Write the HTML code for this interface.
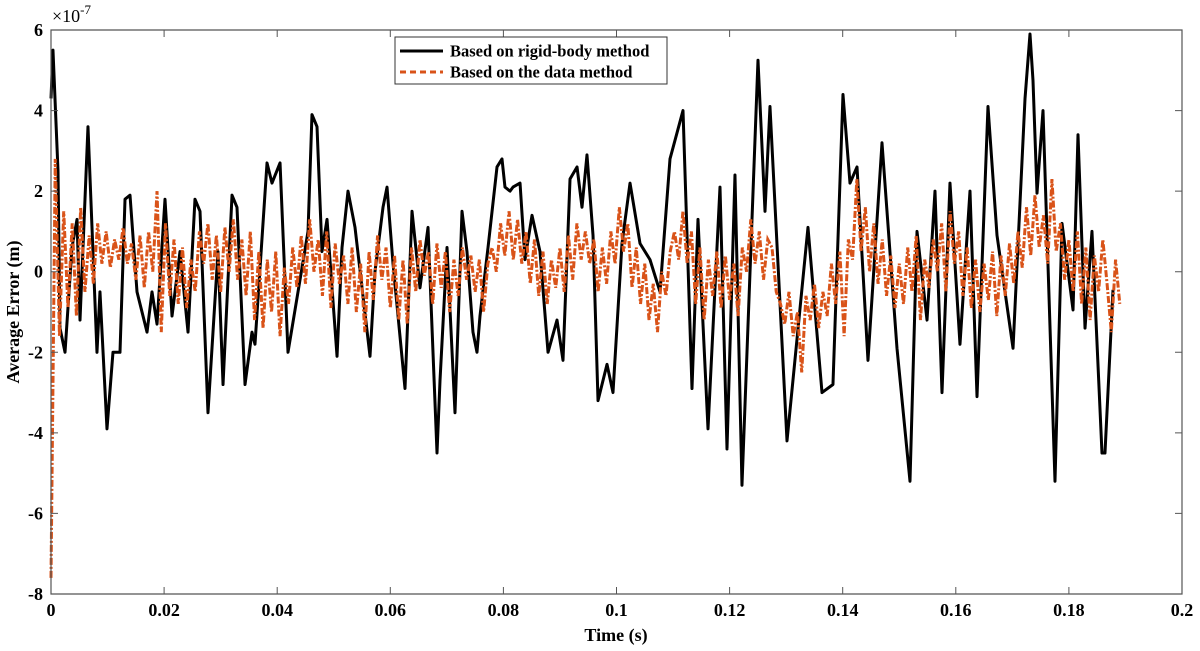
<!DOCTYPE html>
<html><head><meta charset="utf-8"><style>
html,body{margin:0;padding:0;background:#fff;}
svg{display:block;font-family:"Liberation Serif",serif;font-weight:bold;}
</style></head><body>
<svg id="chart" width="1200" height="651" viewBox="0 0 1200 651" xmlns="http://www.w3.org/2000/svg">
<g id="plot"></g>
<g id="axes"></g>
<text x="52" y="22" font-size="18" font-weight="normal">×10<tspan dy="-8" font-size="13">-7</tspan></text>
<text x="616" y="641" font-size="18" text-anchor="middle">Time (s)</text>
<text transform="translate(19,312) rotate(-90)" font-size="18" text-anchor="middle">Average Error (m)</text>
<g>
<rect x="395" y="37" width="272" height="47" fill="#fff" stroke="#333" stroke-width="1"/>
<line x1="400" y1="51" x2="443" y2="51" stroke="#000" stroke-width="3"/>
<text x="450" y="56.5" font-size="16.5">Based on rigid-body method</text>
<line x1="400" y1="72" x2="443" y2="72" stroke="#D95319" stroke-width="3" stroke-dasharray="6,4"/>
<text x="450" y="77.5" font-size="16.5">Based on the data method</text>
</g>
</svg>
<script>
const xTicks = [0, 0.02, 0.04, 0.06, 0.08, 0.1, 0.12, 0.14, 0.16, 0.18, 0.2];
const xTickLabels = ["0","0.02","0.04","0.06","0.08","0.1","0.12","0.14","0.16","0.18","0.2"];
const yTicks = [6, 4, 2, 0, -2, -4, -6, -8];
const yTickLabels = ["6","4","2","0","-2","-4","-6","-8"];
const blackTimeMs = [0,0.35,1.24,1.59,2.48,3.71,4.60,5.13,6.54,8.13,8.66,9.90,10.96,12.20,13.09,13.97,15.21,16.98,17.86,18.75,20.16,21.40,22.81,24.23,25.46,26.35,27.76,29.53,30.42,32.01,32.89,34.31,35.54,36.07,38.20,39.08,40.50,41.91,43.68,45.45,46.15,47.04,47.92,48.81,50.58,51.46,52.52,53.76,56.41,57.29,58.71,59.42,60.48,62.60,63.84,65.25,66.67,68.26,68.79,70.03,71.44,72.68,73.56,74.62,75.33,75.86,77.28,78.87,79.75,80.28,81.17,81.70,82.94,83.82,85.06,86.47,87.89,89.48,90.54,91.78,93.02,93.90,94.78,95.85,96.73,98.32,99.38,100.97,102.39,104.16,105.92,107.69,109.46,111.76,113.35,114.41,116.18,118.30,119.54,120.95,122.19,125.02,126.26,127.14,130.15,133.86,136.34,138.28,140.05,141.29,142.53,144.47,146.95,149.60,151.90,153.14,154.91,156.32,157.56,158.97,160.74,162.51,163.75,165.69,167.29,170.12,172.24,173.12,173.65,174.36,175.42,177.54,178.78,180.73,181.61,182.85,184.08,185.85,186.38,187.80];
const blackError = [4.3,5.5,2.5,-1.4,-2.0,0.6,1.3,-1.2,3.6,-2.0,-0.5,-3.9,-2.0,-2.0,1.8,1.9,-0.5,-1.5,-0.5,-1.3,1.8,-1.1,0.5,-1.5,1.8,1.5,-3.5,0.5,-2.8,1.9,1.6,-2.8,-1.5,-1.8,2.7,2.2,2.7,-2.0,-0.5,1.0,3.9,3.6,0.5,1.3,-2.1,0.6,2.0,1.1,-2.1,0,1.6,2.1,0.2,-2.9,1.5,-0.4,1.1,-4.5,-2.7,0.6,-3.5,1.5,0.5,-1.5,-2.0,-1.1,0.6,2.6,2.8,2.1,2.0,2.1,2.2,0.3,1.4,0.5,-2.0,-1.2,-2.2,2.3,2.6,1.6,2.9,0.9,-3.2,-2.3,-3.0,0.7,2.2,0.7,0.3,-0.5,2.8,4.0,-2.9,1.3,-3.9,2.1,-4.4,2.4,-5.3,5.25,1.5,4.1,-4.2,1.1,-3.0,-2.8,4.4,2.2,2.6,-2.2,3.2,-1.9,-5.2,1.0,-1.2,2.0,-3.0,2.2,-1.8,2.0,-3.1,4.1,0.9,-1.9,4.3,5.9,4.75,1.95,4.0,-5.2,1.2,-0.95,3.4,-1.4,1.0,-4.5,-4.5,-0.45];
const orangeStepS = 0.00075;
const orangeError = [-7.6,2.8,-1.6,1.5,-0.9,1.2,-1.1,1.6,-0.5,0.9,
-0.3,1.2,0.2,1.0,0.1,0.8,0.3,1.1,0.2,0.7,
-0.2,0.9,-0.4,1.0,0.0,2.0,-1.5,1.2,-0.6,0.8,
-0.8,0.6,-0.9,0.3,-0.5,1.0,0.2,1.2,-0.2,0.9,
-0.5,1.1,0.0,1.3,-0.2,0.8,-0.6,1.0,-1.2,0.5,
-1.4,0.3,-1.0,0.5,-1.6,0.1,-0.8,0.6,-0.4,0.9,
-0.3,1.3,0.0,0.8,-0.6,1.0,-0.9,0.7,-0.3,0.4,
-0.8,0.6,-1.0,0.2,-1.5,0.5,-0.7,0.9,-0.2,0.6,
-0.9,0.4,-1.2,0.3,-1.3,0.6,-0.5,0.8,-0.1,0.5,
-0.8,0.7,-0.4,0.5,-1.0,0.3,-0.6,0.6,-0.2,0.4,
-0.5,0.3,-1.0,0.2,0.6,0.0,1.2,0.4,1.5,0.3,
1.3,0.2,1.0,-0.3,0.8,-0.6,0.5,-0.8,0.3,-0.4,
0.6,-0.5,0.9,-0.2,1.2,0.3,1.0,0.2,0.8,-0.5,
0.6,-0.3,1.0,0.2,1.6,0.5,1.2,-0.4,0.6,-0.8,
0.2,-1.2,-0.3,-1.5,0.0,-0.6,0.5,1.0,0.3,1.5,
0.2,1.0,-0.8,0.6,-1.2,0.3,-0.6,0.5,-0.9,0.4,
-0.7,0.2,-1.1,0.6,0.0,1.3,0.2,1.0,-0.2,0.8,
0.6,-0.5,-0.8,-1.3,-0.5,-1.6,-1.0,-2.5,-0.6,-1.2,
-0.3,-1.4,-0.5,-1.1,0.2,-0.8,0.5,-1.6,0.8,0.3,
2.3,0.5,1.6,0.0,1.2,-0.3,0.8,-0.6,0.4,-0.9,
0.2,-0.8,0.6,-0.5,0.9,-1.2,0.3,-0.4,0.8,0.0,
1.2,-0.5,1.5,0.2,1.0,-0.6,0.6,-0.9,0.3,-1.0,
0.2,-0.7,0.5,-1.1,0.4,-0.6,0.7,-0.3,1.0,0.1,
1.6,0.4,1.9,0.6,1.4,0.2,2.3,0.5,1.2,-0.2,
0.8,-0.5,1.0,-0.8,0.6,-1.2,0.4,-0.5,0.8,-0.3,
-1.5,0.3,-0.8];

const NS = "http://www.w3.org/2000/svg";
const L = 51, R = 1182, T = 30, B = 594;
const xMin = 0, xMax = 0.2, yMin = -8, yMax = 6;
function sx(t){ return L + (t - xMin) / (xMax - xMin) * (R - L); }
function sy(v){ return B - (v - yMin) / (yMax - yMin) * (B - T); }
function mk(tag, attrs, parent){ const e = document.createElementNS(NS, tag); for (const k in attrs) e.setAttribute(k, attrs[k]); parent.appendChild(e); return e; }

const plot = document.getElementById('plot');
const axes = document.getElementById('axes');

let d = '';
for (let i = 0; i < orangeError.length; i++) {
  d += (i ? 'L' : 'M') + sx(i * orangeStepS).toFixed(2) + ',' + sy(orangeError[i]).toFixed(2);
}
let db = '';
for (let i = 0; i < blackError.length; i++) {
  db += (i ? 'L' : 'M') + sx(blackTimeMs[i] / 1000).toFixed(2) + ',' + sy(blackError[i]).toFixed(2);
}
const pb = mk('path', {d: db, fill: 'none', stroke: '#000', 'stroke-width': 3, 'stroke-linejoin': 'round'}, plot);


const po = mk('path', {d: d, fill: 'none', stroke: '#D95319', 'stroke-width': 3, 'stroke-dasharray': '7,2,2,2'}, plot);



const box = mk('path', {d: `M${L},${T}H${R}V${B}H${L}Z`, fill: 'none', stroke: '#555', 'stroke-width': 1.2}, axes);



xTicks.forEach((t, i) => {
  const x = sx(t);
  const tk = mk('path', {d: `M${x},${B}v-7M${x},${T}v7`, stroke: '#555', 'stroke-width': 1}, axes);
  
  
  const lb = mk('text', {x: x, y: B + 22, 'font-size': 18, 'text-anchor': 'middle'}, axes);
  lb.textContent = xTickLabels[i];
  
  
});
yTicks.forEach((v, i) => {
  const y = sy(v);
  const tk = mk('path', {d: `M${L},${y}h7M${R},${y}h-7`, stroke: '#555', 'stroke-width': 1}, axes);
  
  
  const lb = mk('text', {x: L - 8, y: y + 6, 'font-size': 18, 'text-anchor': 'end'}, axes);
  lb.textContent = yTickLabels[i];
  
  
});
</script>
</body></html>
